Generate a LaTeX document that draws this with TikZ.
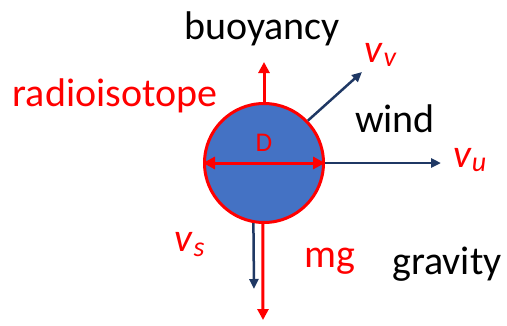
\documentclass[tikz,border=0pt]{standalone}
\usepackage{fontspec}
\setmainfont{Carlito}
\usetikzlibrary{arrows.meta}
\definecolor{fire}{HTML}{FF0000}
\definecolor{navy}{HTML}{1F3864}
\definecolor{ball}{HTML}{4472C4}

\begin{document}
\begin{tikzpicture}[x=1pt,y=-1pt,
  lbl/.style={font=\fontsize{40}{44}\selectfont},
  force/.style={fire,line width=3pt,-{Triangle[length=11pt,width=11pt]}},
  flow/.style={navy,line width=2.5pt,-{Triangle[length=10pt,width=9pt]}}]
\useasboundingbox (0,0) rectangle (507,325);
\node[circle,draw=fire,fill=ball,line width=3pt,minimum size=119pt,inner sep=0pt] (sphere) at (264,163) {};
\coordinate (up) at (264,62);
\coordinate (drift) at (362,72);
\coordinate (side) at (441,163);
\coordinate (sink) at (254,289);
\coordinate (fall) at (263,320);
% forces and velocities
\draw[force] (sphere.north) -- (up);
\draw[flow] (sphere.44) -- (drift);
\draw[flow] (sphere.east) -- (side);
\draw[flow] (sphere.260) -- (sink);
\draw[force] (sphere.269) -- (fall);
\draw[fire,line width=3pt,{Triangle[length=12pt,width=12pt]}-{Triangle[length=12pt,width=12pt]}] (sphere.west) -- (sphere.east);
% labels
\node[lbl] (buoy) at (262,29) {buoyancy};
\node[lbl,text=fire] (iso) at (115,96) {radioisotope};
\node[lbl] (wind) at (395,119) {wind};
\node[lbl] (grav) at (447,264) {gravity};
\node[lbl,text=fire] (mg) at (330,261) {mg};
\node[font=\fontsize{27}{30}\selectfont,text=fire] (dia) at (264,143) {D};
\node[lbl,text=fire] (vv) at (381,55) {\textit{v}\textsubscript{\textit{v}}};
\node[lbl,text=fire] (vu) at (470,160) {\textit{v}\textsubscript{\textit{u}}};
\node[lbl,text=fire] (vs) at (190,245) {\textit{v}\textsubscript{\textit{s}}};
\end{tikzpicture}
\end{document}
